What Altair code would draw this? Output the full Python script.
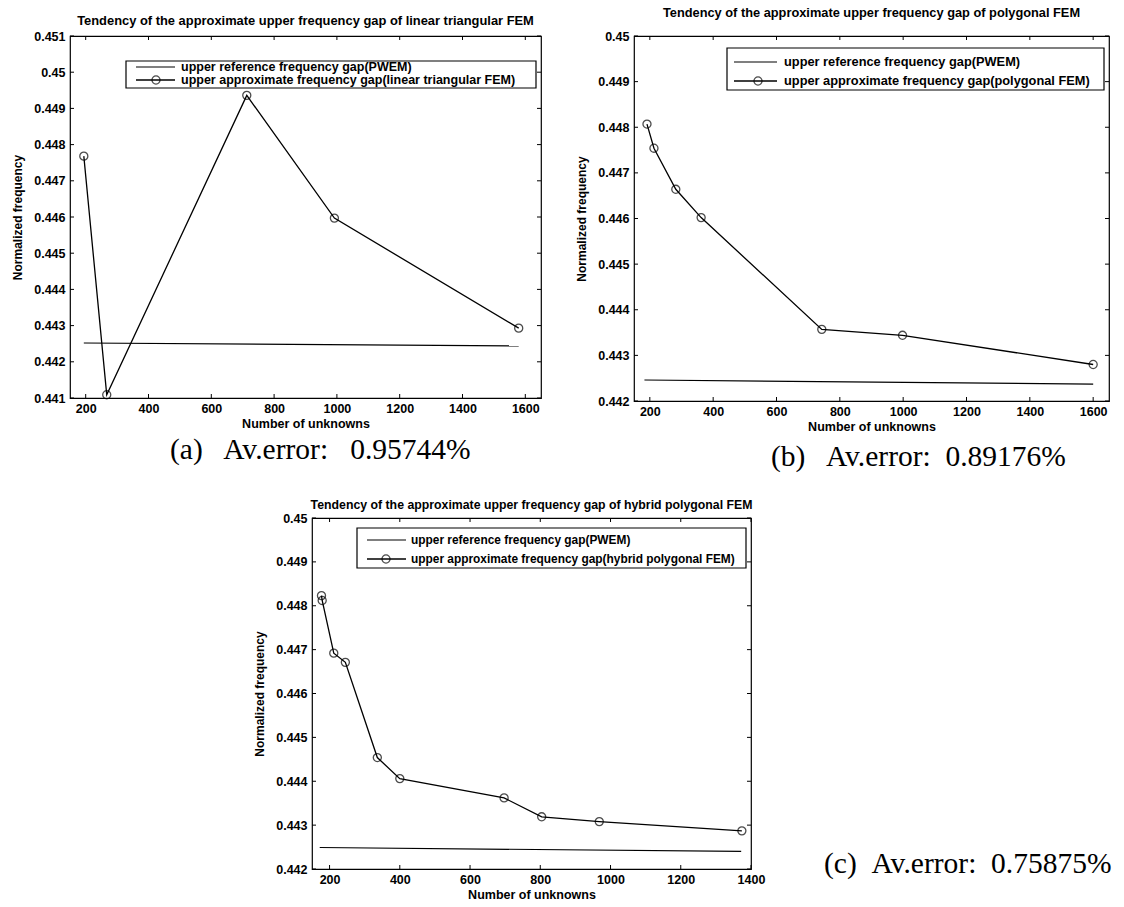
import altair as alt
import pandas as pd

SANS = "Liberation Sans"
SERIF = "Liberation Serif"

# ---------------- data ----------------
# panel (a): linear triangular FEM
a_x = [194, 267, 713, 992, 1579]
a_y = [0.44768, 0.44109, 0.44936, 0.44597, 0.44293]
a_ref_x = [194, 1579]
a_ref_y = [0.44252, 0.44244]

# panel (b): polygonal FEM
b_x = [191, 213, 282, 362, 743, 998, 1600]
b_y = [0.44807, 0.44754, 0.44664, 0.44602, 0.44357, 0.44344, 0.44280]
b_ref_x = [183, 1600]
b_ref_y = [0.44246, 0.44237]

# panel (c): hybrid polygonal FEM
c_x = [177, 179, 212, 245, 336, 400, 697, 804, 968, 1374]
c_y = [0.44823, 0.44812, 0.44692, 0.44671, 0.44454, 0.44406, 0.44362, 0.44319, 0.44308, 0.44287]
c_ref_x = [172, 1372]
c_ref_y = [0.44249, 0.44240]

# tick labels
ticks_x_ab = [200, 400, 600, 800, 1000, 1200, 1400, 1600]
ticks_x_c = [200, 400, 600, 800, 1000, 1200, 1400]
ticks_y_a = [0.441, 0.442, 0.443, 0.444, 0.445, 0.446, 0.447, 0.448, 0.449, 0.450, 0.451]
ticks_y_bc = [0.442, 0.443, 0.444, 0.445, 0.446, 0.447, 0.448, 0.449, 0.450]

titles = [
    "Tendency of the approximate upper frequency gap of linear triangular FEM",
    "Tendency of the approximate upper frequency gap of polygonal FEM",
    "Tendency of the approximate upper frequency gap of hybrid polygonal FEM",
]
legend_ref = "upper reference frequency gap(PWEM)"
legend_approx = [
    "upper approximate frequency gap(linear triangular FEM)",
    "upper approximate frequency gap(polygonal FEM)",
    "upper approximate frequency gap(hybrid polygonal FEM)",
]
captions = [
    "(a)\u2002 Av.error:\u2002 0.95744%",
    "(b)\u2002 Av.error:\u20020.89176%",
    "(c)\u2002Av.error:\u20020.75875%",
]
x_title = "Number of unknowns"
y_title = "Normalized frequency"


def panel(title, tsize, toff, xs, ys, rx, ry, xdom, ydom, xt, yt, w, h,
          leg, lsize, approx_label, cap, cap_pos):
    X = alt.X("x:Q", scale=alt.Scale(domain=xdom, nice=False, zero=False),
              axis=alt.Axis(values=xt, format="d", title=x_title, grid=False,
                            ticks=False, domain=False, labelPadding=4,
                            labelFont=SANS, labelFontSize=12.5, labelFontWeight="bold",
                            labelColor="black",
                            titleFont=SANS, titleFontSize=12.5, titleFontWeight="bold",
                            titleColor="black", titlePadding=3, labelFlush=False))
    Y = alt.Y("y:Q", scale=alt.Scale(domain=ydom, nice=False, zero=False),
              axis=alt.Axis(values=yt, format=".3~f", title=y_title, grid=False,
                            ticks=False, domain=False, labelPadding=5,
                            labelFont=SANS, labelFontSize=12.5, labelFontWeight="bold",
                            labelColor="black",
                            titleFont=SANS, titleFontSize=12, titleFontWeight="bold",
                            titleColor="black", titlePadding=9, labelFlush=False))

    ref = alt.Chart(pd.DataFrame({"x": rx, "y": ry})).mark_line(
        color="black", strokeWidth=1.2).encode(x=X, y=Y)
    approx = alt.Chart(pd.DataFrame({"x": xs, "y": ys})).mark_line(
        color="black", strokeWidth=1.3).encode(x=X, y=Y)
    pts = alt.Chart(pd.DataFrame({"x": xs, "y": ys})).mark_point(
        shape="circle", filled=False, color="black", size=65, strokeWidth=1.3
    ).encode(x=X, y=Y)

    tl = 4
    xtd = pd.DataFrame({"x": xt})
    ytd = pd.DataFrame({"y": yt})
    xb = alt.Chart(xtd).mark_rule(color="black", strokeWidth=1).encode(
        x=X, y=alt.value(h), y2=alt.value(h - tl))
    xtop = alt.Chart(xtd).mark_rule(color="black", strokeWidth=1).encode(
        x=X, y=alt.value(0), y2=alt.value(tl))
    yl = alt.Chart(ytd).mark_rule(color="black", strokeWidth=1).encode(
        y=Y, x=alt.value(0), x2=alt.value(tl))
    yr = alt.Chart(ytd).mark_rule(color="black", strokeWidth=1).encode(
        y=Y, x=alt.value(w), x2=alt.value(w - tl))

    bx0, by0, bx1, by1, r1, r2, lx0, lx1, cx, tx = leg
    one = pd.DataFrame({"k": [0]})
    box = alt.Chart(one).mark_rect(fill="white", stroke="black", strokeWidth=1.2).encode(
        x=alt.value(bx0), x2=alt.value(bx1), y=alt.value(by0), y2=alt.value(by1))
    l1 = alt.Chart(one).mark_rule(color="black", strokeWidth=1.2).encode(
        x=alt.value(lx0), x2=alt.value(lx1), y=alt.value(r1))
    l2 = alt.Chart(one).mark_rule(color="black", strokeWidth=1.3).encode(
        x=alt.value(lx0), x2=alt.value(lx1), y=alt.value(r2))
    lc = alt.Chart(one).mark_point(shape="circle", filled=False, color="black",
                                   size=65, strokeWidth=1.3).encode(
        x=alt.value(cx), y=alt.value(r2))
    labs = pd.DataFrame({"t": [legend_ref, approx_label]})
    t1 = alt.Chart(labs.iloc[[0]]).mark_text(
        align="left", baseline="middle", font=SANS, fontSize=lsize,
        fontWeight="bold", color="black"
    ).encode(text="t:N", x=alt.value(tx), y=alt.value(r1))
    t2 = alt.Chart(labs.iloc[[1]]).mark_text(
        align="left", baseline="middle", font=SANS, fontSize=lsize,
        fontWeight="bold", color="black"
    ).encode(text="t:N", x=alt.value(tx), y=alt.value(r2))

    capt = alt.Chart(pd.DataFrame({"t": [cap]})).mark_text(
        align="left", baseline="alphabetic", font=SERIF, fontSize=29.5, color="black"
    ).encode(text="t:N", x=alt.value(cap_pos[0]), y=alt.value(cap_pos[1]))

    return alt.layer(ref, approx, pts, xb, xtop, yl, yr, box, l1, l2, lc, t1, t2, capt).properties(
        width=w, height=h,
        title=alt.TitleParams(title, font=SANS, fontSize=tsize, fontWeight="bold",
                              color="black", anchor="middle", offset=toff),
    )


A = panel(titles[0], 12.9, 2, a_x, a_y, a_ref_x, a_ref_y, [150, 1650], [0.441, 0.451],
          ticks_x_ab, ticks_y_a, 471, 362,
          (56, 25, 466, 52, 31, 44, 66, 105, 86, 111), 12.5, legend_approx[0],
          captions[0], (100, 423))
B = panel(titles[1], 12.8, 10, b_x, b_y, b_ref_x, b_ref_y, [150, 1650], [0.442, 0.450],
          ticks_x_ab, ticks_y_bc, 475, 365,
          (93, 12, 470, 54, 26, 45, 100, 143, 124, 150), 12.8, legend_approx[1],
          captions[1], (137, 430))
C = panel(titles[2], 12.3, 1, c_x, c_y, c_ref_x, c_ref_y, [150, 1400], [0.442, 0.450],
          ticks_x_c, ticks_y_bc, 439, 351,
          (45, 10, 434, 50, 22, 41, 55, 94, 74, 99), 11.9, legend_approx[2],
          captions[2], (512, 355))

spacer = alt.Chart(pd.DataFrame({"s": [""]})).mark_text().encode(text="s:N").properties(
    width=182, height=10, view=alt.ViewBackground(stroke="transparent"))

row1 = alt.hconcat(A, B, spacing=32)
row2 = alt.hconcat(spacer, C, spacing=0)
chart = alt.vconcat(row1, row2, spacing=25).properties(
    padding={"left": 11, "top": 6, "right": 0, "bottom": 0},
    background="white",
).configure_view(stroke="black", strokeWidth=1.2)

chart.save("out.html", embed_options={"renderer": "svg", "actions": False})
